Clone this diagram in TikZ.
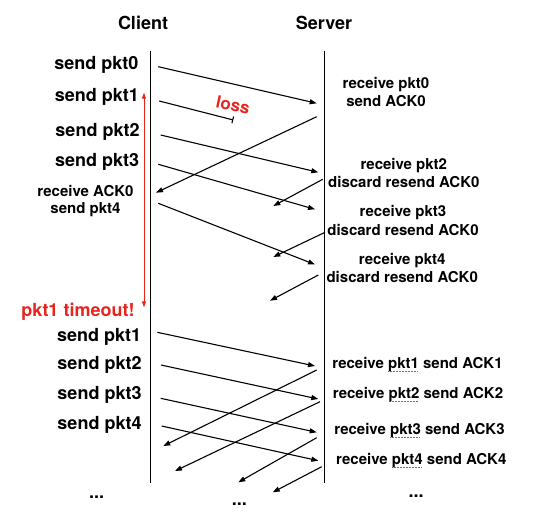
\documentclass[tikz,border=0pt]{standalone}
\usepackage{fontspec}
\setmainfont{TeX Gyre Heros}
\usetikzlibrary{arrows.meta}
\definecolor{lossred}{RGB}{232,36,30}
\definecolor{spellred}{RGB}{235,60,60}
\newcommand\sqline[1]{\setbox0\hbox{#1}\rlap{\raisebox{-3pt}{\color{spellred}\hbox to\wd0{\leaders\hbox to 1.5pt{\hss\rule{0.9pt}{0.7pt}\hss}\hfill}}}#1}
\begin{document}
\begin{tikzpicture}[x=1pt,y=-1pt,
  big/.style={font=\fontsize{18}{20}\selectfont\bfseries, inner sep=0pt, outer sep=0pt},
  small/.style={font=\fontsize{15}{18.3}\selectfont\bfseries, inner sep=0pt, outer sep=0pt, align=center},
  msg/.style={line width=1.1pt, -{Triangle[length=7pt,width=5pt]}},
  life/.style={line width=1.3pt},
  redtxt/.style={text=lossred},
]
\useasboundingbox (0,0) rectangle (534,515);

% headers and lifelines
\node[big] (client) at (143,22.5) {Client};
\node[big] (server) at (324,22.5) {Server};
\coordinate (cTop) at (150.7,50.7);
\coordinate (cBot) at (150.7,482.7);
\coordinate (sTop) at (324.3,50.7);
\coordinate (sBot) at (324.3,482.7);
\draw[life] (cTop) -- (cBot);
\draw[life] (sTop) -- (sBot);

% client labels
\node[big] (c0) at (96.3,64.5) {send pkt0};
\node[big] (c1) at (96.8,97.2) {send pkt1};
\node[big] (c2) at (97.5,132.2) {send pkt2};
\node[big] (c3) at (97.2,162.2) {send pkt3};
\node[small, font=\fontsize{15}{17}\selectfont\bfseries] (c4) at (85.5,201.2) {receive ACK0\\send pkt4};
\node[big, redtxt] (tout) at (78,312) {pkt1 timeout!};
\node[big] (d1) at (99.2,337.2) {send pkt1};
\node[big] (d2) at (99.5,365) {send pkt2};
\node[big] (d3) at (99.5,394.7) {send pkt3};
\node[big] (d4) at (99.5,424.7) {send pkt4};

% server labels
\node[small] (s0) at (386,91.7) {receive pkt0\\send ACK0};
\node[small] (s2) at (403.8,173.3) {receive pkt2\\discard resend ACK0};
\node[small] (s3) at (403,220.5) {receive pkt3\\discard resend ACK0};
\node[small] (s4) at (402.2,268.3) {receive pkt4\\discard resend ACK0};
\node[small] (r1) at (417.5,364.7) {receive \sqline{pkt1} send ACK1};
\node[small] (r2) at (418,394.7) {receive \sqline{pkt2} send ACK2};
\node[small] (r3) at (419.5,430.8) {receive \sqline{pkt3} send ACK3};
\node[small] (r4) at (421.3,460.8) {receive \sqline{pkt4} send ACK4};

% loss label
\node[big, redtxt, font=\fontsize{17}{19}\selectfont\bfseries, rotate=-12] (loss) at (233,105) {loss};

% dots
\node[big, anchor=base] (dl) at (96.7,498.3) {...};
\node[big, anchor=base] (dm) at (239.3,505.6) {...};
\node[big, anchor=base] (dr) at (416,497.7) {...};

% timeout arrow
\coordinate (tA) at (144,92.7);
\coordinate (tB) at (144,307.3);
\draw[lossred, line width=0.9pt, {Triangle[length=6pt,width=4pt]}-{Triangle[length=6pt,width=4pt]}] (tA) -- (tB);

% first phase messages
\coordinate (p0a) at (158.3,66.7);  \coordinate (p0b) at (316.7,103.3);
\coordinate (p1a) at (159.3,101);   \coordinate (p1b) at (233.3,120);
\coordinate (a0a) at (316.7,116.7); \coordinate (a0b) at (156,192.7);
\coordinate (p2a) at (160.7,135);   \coordinate (p2b) at (318.3,172.3);
\coordinate (p3a) at (158.3,164.3); \coordinate (p3b) at (315,209.3);
\coordinate (x2a) at (322.7,179.3); \coordinate (x2b) at (273.3,206);
\coordinate (p4a) at (158.3,203.3); \coordinate (p4b) at (315,264.5);
\coordinate (x3a) at (325,232.3);   \coordinate (x3b) at (273.3,257);
\coordinate (x4a) at (318.3,275);   \coordinate (x4b) at (270,300.7);
\draw[msg] (p0a) -- (p0b);
\draw[line width=1.1pt, -{Bar[width=7pt]}] (p1a) -- (p1b);
\draw[msg] (a0a) -- (a0b);
\draw[msg] (p2a) -- (p2b);
\draw[msg] (p3a) -- (p3b);
\draw[msg] (x2a) -- (x2b);
\draw[msg] (p4a) -- (p4b);
\draw[msg] (x3a) -- (x3b);
\draw[msg] (x4a) -- (x4b);

% second phase messages
\coordinate (q1a) at (157.3,332.3); \coordinate (q1b) at (315,366);
\coordinate (q2a) at (161,365);     \coordinate (q2b) at (318.3,399);
\coordinate (q3a) at (160.7,398.3); \coordinate (q3b) at (316.7,432.3);
\coordinate (q4a) at (161.7,426);   \coordinate (q4b) at (318.3,460.7);
\coordinate (k1a) at (316.7,370);   \coordinate (k1b) at (163.3,446);
\coordinate (k2a) at (320,401.7);   \coordinate (k2b) at (175,471);
\coordinate (k3a) at (316.7,437.7); \coordinate (k3b) at (238.3,482.3);
\coordinate (k4a) at (321.7,466.7); \coordinate (k4b) at (272.7,492.3);
\draw[msg] (q1a) -- (q1b);
\draw[msg] (q2a) -- (q2b);
\draw[msg] (q3a) -- (q3b);
\draw[msg] (q4a) -- (q4b);
\draw[msg] (k1a) -- (k1b);
\draw[msg] (k2a) -- (k2b);
\draw[msg] (k3a) -- (k3b);
\draw[msg] (k4a) -- (k4b);
\end{tikzpicture}
\end{document}
